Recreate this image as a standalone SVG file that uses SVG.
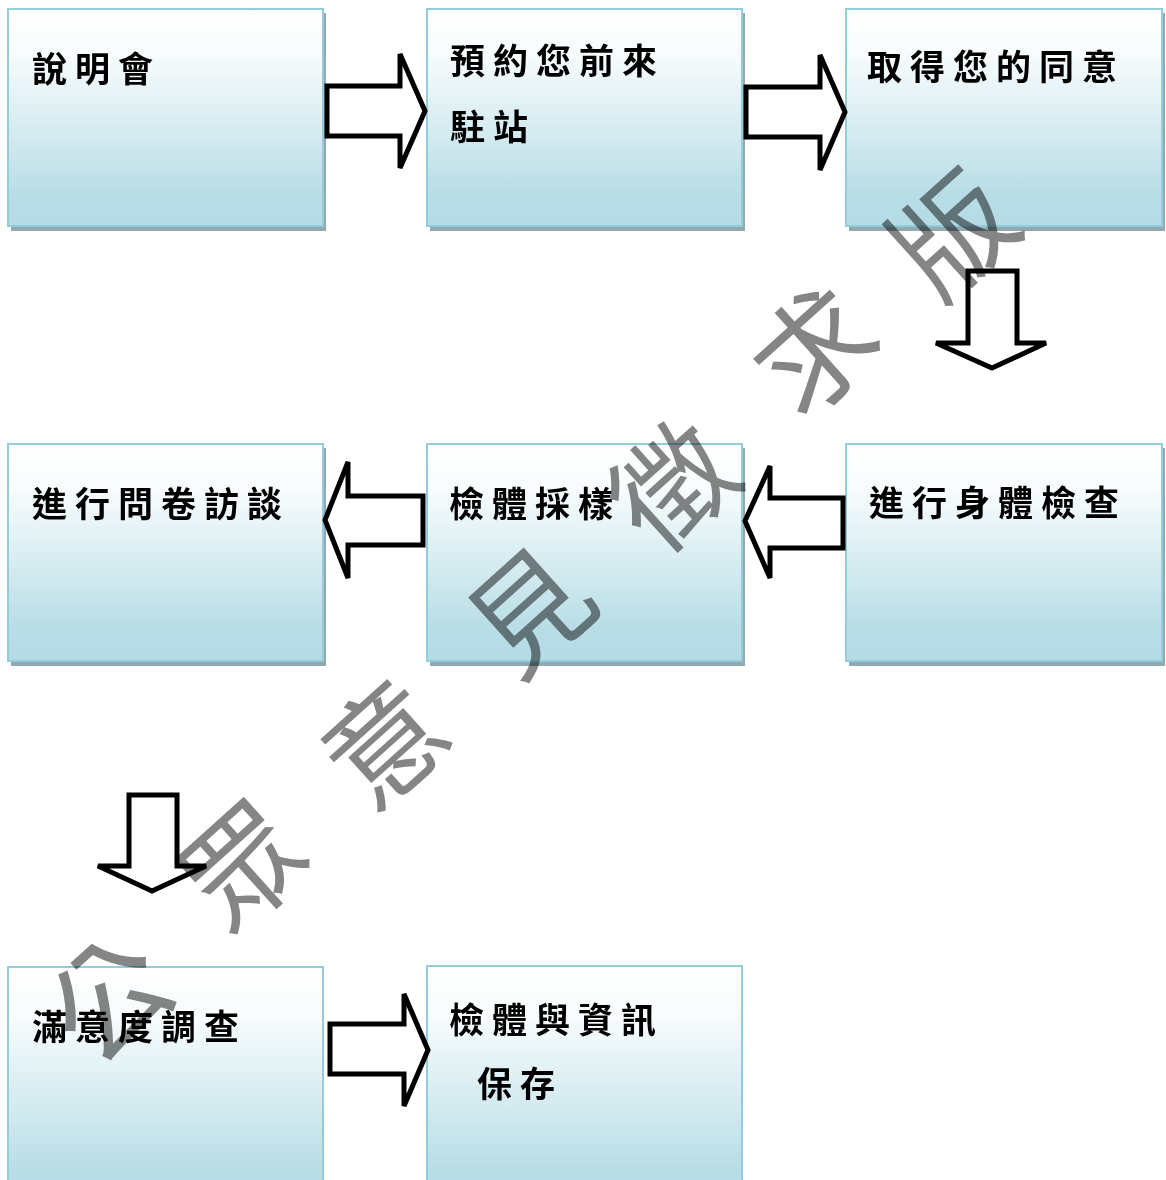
<svg xmlns="http://www.w3.org/2000/svg" width="1166" height="1180" viewBox="0 0 1166 1180">
  <style>
    .box { fill: url(#boxGrad); stroke: #93cddc; stroke-width: 2; }
    .shadow { fill: #93a9b0; }
    .label { font-family: "Noto Sans CJK TC", "Noto Sans CJK SC", sans-serif; font-size: 35px; font-weight: 700; fill: #000; letter-spacing: 8px; }
    .arrow { fill: #fff; stroke: #000; stroke-width: 5; stroke-linejoin: miter; }
    .wm { font-family: "Noto Sans CJK TC", "Noto Sans CJK SC", sans-serif; font-size: 118px; font-weight: 400; fill: #858585; mix-blend-mode: multiply; }
  </style>
  <defs>
    <linearGradient id="boxGrad" x1="0" y1="0" x2="0" y2="1">
      <stop offset="0" stop-color="#ffffff"/>
      <stop offset="0.2" stop-color="#f8fcfd"/>
      <stop offset="0.55" stop-color="#d6ecf1"/>
      <stop offset="0.85" stop-color="#b8dde6"/>
      <stop offset="1" stop-color="#b5dbe4"/>
    </linearGradient>
  </defs>
  <rect width="1166" height="1180" fill="#fff"/>

  <g id="node-1">
    <rect class="shadow" x="11" y="13" width="315" height="218"/>
    <rect class="box" x="8" y="9" width="315" height="217"/>
    <text class="label" x="32" y="82">說明會</text>
  </g>
  <g id="node-2">
    <rect class="shadow" x="430" y="13" width="315" height="218"/>
    <rect class="box" x="427" y="9" width="315" height="217"/>
    <text class="label" x="450" y="74">預約您前來</text>
    <text class="label" x="450" y="140">駐站</text>
  </g>
  <g id="node-3">
    <rect class="shadow" x="849" y="13" width="316" height="218"/>
    <rect class="box" x="846" y="9" width="316" height="217"/>
    <text class="label" x="867" y="80">取得您的同意</text>
  </g>
  <g id="node-4">
    <rect class="shadow" x="11" y="448" width="315" height="218"/>
    <rect class="box" x="8" y="444" width="315" height="217"/>
    <text class="label" x="32" y="517">進行問卷訪談</text>
  </g>
  <g id="node-5">
    <rect class="shadow" x="430" y="448" width="315" height="218"/>
    <rect class="box" x="427" y="444" width="315" height="217"/>
    <text class="label" x="449" y="517">檢體採樣</text>
  </g>
  <g id="node-6">
    <rect class="shadow" x="849" y="448" width="316" height="218"/>
    <rect class="box" x="846" y="444" width="316" height="217"/>
    <text class="label" x="869" y="516">進行身體檢查</text>
  </g>
  <g id="node-7">
    <rect class="box" x="8" y="967" width="315" height="240"/>
    <text class="label" x="32" y="1040">滿意度調查</text>
  </g>
  <g id="node-8">
    <rect class="box" x="427" y="966" width="315" height="240"/>
    <text class="label" x="449" y="1033">檢體與資訊</text>
    <text class="label" x="477" y="1097">保存</text>
  </g>

  <g id="connectors">
    <path class="arrow" d="M327,86 H400 V54 L425,111 L400,168 V136 H327 Z"/>
    <path class="arrow" d="M746,87 H820 V55 L845,112 L820,170 V137 H746 Z"/>
    <path class="arrow" d="M968,271 H1017 V343 H1046 L992,368 L936,343 H968 Z"/>
    <path class="arrow" d="M843,498 H770 V466 L745,521 L770,578 V548 H843 Z"/>
    <path class="arrow" d="M423,496 H348 V462 L325,520 L348,578 V545 H423 Z"/>
    <path class="arrow" d="M129,795 H177 V866 H206 L152,891 L98,866 H129 Z"/>
    <path class="arrow" d="M330,1024 H404 V994 L428,1050 L404,1106 V1074 H330 Z"/>
  </g>

  <g id="watermark">
    <text class="wm" text-anchor="middle" dominant-baseline="central" transform="translate(104,993) rotate(-42)">公</text>
    <text class="wm" text-anchor="middle" dominant-baseline="central" transform="translate(238,860) rotate(-42)">眾</text>
    <text class="wm" text-anchor="middle" dominant-baseline="central" transform="translate(380,738) rotate(-42)">意</text>
    <text class="wm" text-anchor="middle" dominant-baseline="central" transform="translate(525,605) rotate(-42)">見</text>
    <text class="wm" text-anchor="middle" dominant-baseline="central" transform="translate(668,480) rotate(-42)">徵</text>
    <text class="wm" text-anchor="middle" dominant-baseline="central" transform="translate(810,345) rotate(-42)">求</text>
    <text class="wm" text-anchor="middle" dominant-baseline="central" transform="translate(948,228) rotate(-42)">版</text>
  </g>
</svg>
